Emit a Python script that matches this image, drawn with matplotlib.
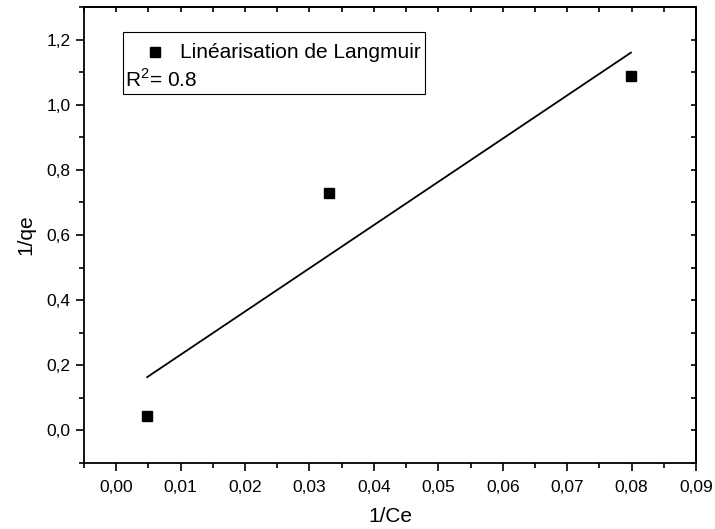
import numpy as np
import matplotlib.pyplot as plt
from matplotlib.ticker import MultipleLocator, FuncFormatter
from matplotlib.patches import Rectangle

plt.rcParams['font.family'] = ['Liberation Sans', 'DejaVu Sans']
plt.rcParams['mathtext.fontset'] = 'custom'
plt.rcParams['mathtext.rm'] = 'Liberation Sans'

# 1/Ce and 1/qe values
inv_ce = np.array([0.0048, 0.0330, 0.0799])
inv_qe = np.array([0.044, 0.729, 1.088])
legend_label = "Linéarisation de Langmuir"
r2_text = "R$^\\mathrm{2}$= 0.8"

# least-squares line through the points
slope, intercept = np.polyfit(inv_ce, inv_qe, 1)
fit_x = np.array([inv_ce.min(), inv_ce.max()])
fit_y = slope * fit_x + intercept

fig = plt.figure(figsize=(7.15, 5.29), dpi=100)
ax = fig.add_axes([0.1175, 0.1248, 0.9734 - 0.1175, 0.9868 - 0.1248])

ax.plot(inv_ce, inv_qe, 's', color='black', markersize=7)
ax.plot(fit_x, fit_y, '-', color='black', linewidth=1.3)

ax.set_xlim(-0.005, 0.09)
ax.set_ylim(-0.1, 1.3)

comma = lambda fmt: FuncFormatter(lambda v, p: (fmt % v).replace('.', ','))
ax.xaxis.set_major_locator(MultipleLocator(0.01))
ax.xaxis.set_minor_locator(MultipleLocator(0.005))
ax.yaxis.set_major_locator(MultipleLocator(0.2))
ax.yaxis.set_minor_locator(MultipleLocator(0.1))
ax.xaxis.set_major_formatter(comma('%.2f'))
ax.yaxis.set_major_formatter(comma('%.1f'))

ax.tick_params(which='major', direction='out', length=6, width=1.2, labelsize=12.5)
ax.tick_params(axis='x', which='major', pad=6)
ax.tick_params(which='minor', direction='out', length=3.5, width=1.2)
for s in ax.spines.values():
    s.set_linewidth(1.3)

# inward ticks on the top and right frame
top = ax.secondary_xaxis('top')
top.xaxis.set_major_locator(MultipleLocator(0.005))
top.tick_params(direction='in', length=3.5, width=1.2, labeltop=False)
right = ax.secondary_yaxis('right')
right.yaxis.set_major_locator(MultipleLocator(0.1))
right.tick_params(direction='in', length=3.5, width=1.2, labelright=False)
top.spines['top'].set_linewidth(1.3)
right.spines['right'].set_linewidth(1.3)

ax.set_xlabel("1/Ce", fontsize=15, labelpad=9)
ax.set_ylabel("1/qe", fontsize=15, labelpad=8)

# legend box
ax.add_patch(Rectangle((0.064, 0.809), 0.493, 0.136, transform=ax.transAxes,
                       facecolor='white', edgecolor='black', linewidth=0.8, zorder=5))
ax.plot([0.116], [0.901], 's', color='black', markersize=7,
        transform=ax.transAxes, zorder=6)
ax.text(0.157, 0.901, legend_label, transform=ax.transAxes, fontsize=15,
        va='center', ha='left', zorder=6)
ax.text(0.067, 0.840, r2_text, transform=ax.transAxes, fontsize=15,
        va='center', ha='left', zorder=6)

fig.savefig("out.png", dpi=100)
